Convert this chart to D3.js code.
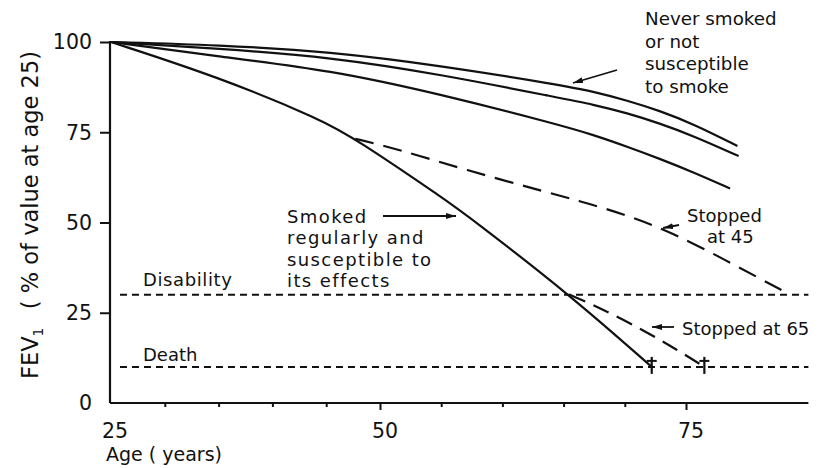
<!DOCTYPE html>
<html><head><meta charset="utf-8">
<script src="https://cdn.jsdelivr.net/npm/d3@7"></script>
<style>body{margin:0;background:#fff}text{font-family:"DejaVu Sans",sans-serif;fill:#111}</style>
</head><body>
<svg id="c" width="819" height="468"></svg>
<script>
// ---- data (age in years, FEV1 as % of value at age 25) ----
const xMinorTicks = [30,35,40,45,55,60,65,70];
const xMajorTicks = [50,75];
const xLabels = [25,50,75];
const yTicks = [100,75,50,25];
const yLabels = [100,75,50,25,0];
const xExtent = [25,85];

const neverSmoked = [[25,100],[35,99.2],[45.4,97.3],[55,93.4],[64.7,88.1],[67.4,86.3],[70.2,83.8],[72.9,80.9],[75.6,77.3],[79.2,71.2]];
const notSusceptible = [[25,100],[35,98.2],[45.4,95.8],[55,91],[64.7,84.5],[67.4,82.7],[70.2,80.3],[72.9,77.4],[75.6,74],[79.3,68.4]];
const mildSmoker = [[25,100],[35,96],[45.4,92.2],[55,85.5],[64.7,77],[67.4,74.3],[70.2,71],[72.9,67.6],[75.6,63.9],[78.6,59.4]];
const susceptibleSmoker = [[25,100],[35,90.3],[44.7,78.3],[47.7,73.2],[55.4,56.2],[57.6,50.7],[65.5,30],[72.2,10]];
const stoppedAt45 = [[47.7,73.2],[50.3,71.3],[53.3,68.4],[56.8,64.8],[62.3,59.6],[66.3,56],[70.4,51.8],[73.9,47.1],[77.9,40.2],[83.5,30]];
const stoppedAt65 = [[65.5,30],[68,26.3],[71.5,20.2],[74.3,14.7],[76.5,10]];
const disabilityLevel = 30;
const deathLevel = 10;
const deathAges = [72.2,76.5];

const svg = d3.select('#c');
const x = d3.scaleLinear().domain([25,50,75]).range([111,380,686]);
const y = d3.scaleLinear().domain([0,100]).range([403,42]);

// arrow marker
svg.append('defs').append('marker').attr('id','ah').attr('viewBox','0 0 10 6')
  .attr('refX',10).attr('refY',3).attr('markerWidth',10).attr('markerHeight',6)
  .attr('markerUnits','userSpaceOnUse').attr('orient','auto')
  .append('path').attr('d','M0,0L10,3L0,6Z').attr('fill','#111');

// axes
const gx = svg.append('g').attr('transform',`translate(0,${y(0)})`);
gx.append('line').attr('x1',x(xExtent[0])-1).attr('x2',x(xExtent[1])).attr('stroke','#111').attr('stroke-width',2.2);
gx.call(g=>g.append('g').call(d3.axisBottom(x).tickValues(xMinorTicks).tickSize(4).tickFormat('')).call(a=>a.select('.domain').remove()));
gx.call(g=>g.append('g').call(d3.axisBottom(x).tickValues(xMajorTicks).tickSize(7).tickFormat('')).call(a=>a.select('.domain').remove()));
gx.selectAll('.tick line').attr('stroke','#111').attr('stroke-width',2);
gx.selectAll('.xl').data(xLabels).join('text').attr('class','xl')
  .attr('x',d=>x(d)+(d===25?4:5)).attr('y',35).attr('text-anchor','middle').attr('font-size',20.5).text(d=>d);
svg.append('text').attr('x',106).attr('y',461).attr('font-size',19).text('Age ( years)');

const gy = svg.append('g').attr('transform',`translate(${x(25)-1},0)`);
gy.append('line').attr('y1',y(0)).attr('y2',y(100)-1).attr('stroke','#111').attr('stroke-width',2.2);
gy.append('g').call(d3.axisLeft(y).tickValues(yTicks).tickSize(10).tickFormat('')).call(a=>a.select('.domain').remove());
gy.selectAll('.tick line').attr('stroke','#111').attr('stroke-width',2);
gy.selectAll('.yl').data(yLabels).join('text').attr('class','yl')
  .attr('x',-18).attr('y',d=>y(d)).attr('dy','0.36em').attr('text-anchor','end').attr('font-size',20.5).text(d=>d);

const yt = svg.append('text').attr('transform','translate(38,215) rotate(-90)').attr('text-anchor','middle').attr('font-size',22.5);
yt.append('tspan').text('FEV');
yt.append('tspan').attr('font-size',14).attr('dy',5).text('1');
yt.append('tspan').attr('dy',-5).text('\u2002 ( % of value at age 25)');

// reference levels
[disabilityLevel, deathLevel].forEach(v=>{
  svg.append('line').attr('x1',120).attr('x2',x(xExtent[1])).attr('y1',y(v)).attr('y2',y(v))
    .attr('stroke','#111').attr('stroke-width',2).attr('stroke-dasharray','7,5');
});
svg.append('text').attr('x',143).attr('y',y(disabilityLevel)-9).attr('font-size',18).attr('letter-spacing',0.6).text('Disability');
svg.append('text').attr('x',143).attr('y',y(deathLevel)-6).attr('font-size',18).text('Death');

// curves
const line = d3.line().x(d=>x(d[0])).y(d=>y(d[1])).curve(d3.curveBasis);
[neverSmoked, notSusceptible, mildSmoker, susceptibleSmoker].forEach(s=>{
  svg.append('path').attr('d',line(s)).attr('fill','none').attr('stroke','#111').attr('stroke-width',2.2);
});
svg.append('path').attr('d',line(stoppedAt45)).attr('fill','none').attr('stroke','#111').attr('stroke-width',2.2).attr('stroke-dasharray','19,10');
svg.append('path').attr('d',line(stoppedAt65)).attr('fill','none').attr('stroke','#111').attr('stroke-width',2.2).attr('stroke-dasharray','17,9');

// death marks (daggers)
const dag = svg.selectAll('.dag').data(deathAges).join('g').attr('class','dag')
  .attr('transform',d=>`translate(${x(d)},${y(deathLevel)})`);
dag.append('line').attr('y1',-10).attr('y2',7).attr('stroke','#111').attr('stroke-width',2.2);
dag.append('line').attr('x1',-5).attr('x2',5).attr('y1',-6).attr('y2',-6).attr('stroke','#111').attr('stroke-width',2);

// annotations
function arrow(x1,y1,x2,y2){svg.append('line').attr('x1',x1).attr('y1',y1).attr('x2',x2).attr('y2',y2)
  .attr('stroke','#111').attr('stroke-width',1.8).attr('marker-end','url(#ah)');}
function label(xp,yp,lines,dy,fs,ls){const t=svg.append('text').attr('font-size',fs||18).attr('letter-spacing',ls||0);
  lines.forEach((l,i)=>t.append('tspan').attr('x',xp).attr('y',yp+i*dy).text(l));}

label(645,25,['Never smoked','or not','susceptible','to smoke'],22.5,18.3);
arrow(617,70,573,83);
label(287,223,['Smoked','regularly and','susceptible to','its effects'],21.3,18,1.4);
arrow(383,216,456,216);
label(687,222,['Stopped'],0);
label(707,243,['at 45'],0);
arrow(679,225,663,228);
label(682,335,['Stopped at 65'],0);
arrow(674,327,652,327);
</script>
</body></html>
